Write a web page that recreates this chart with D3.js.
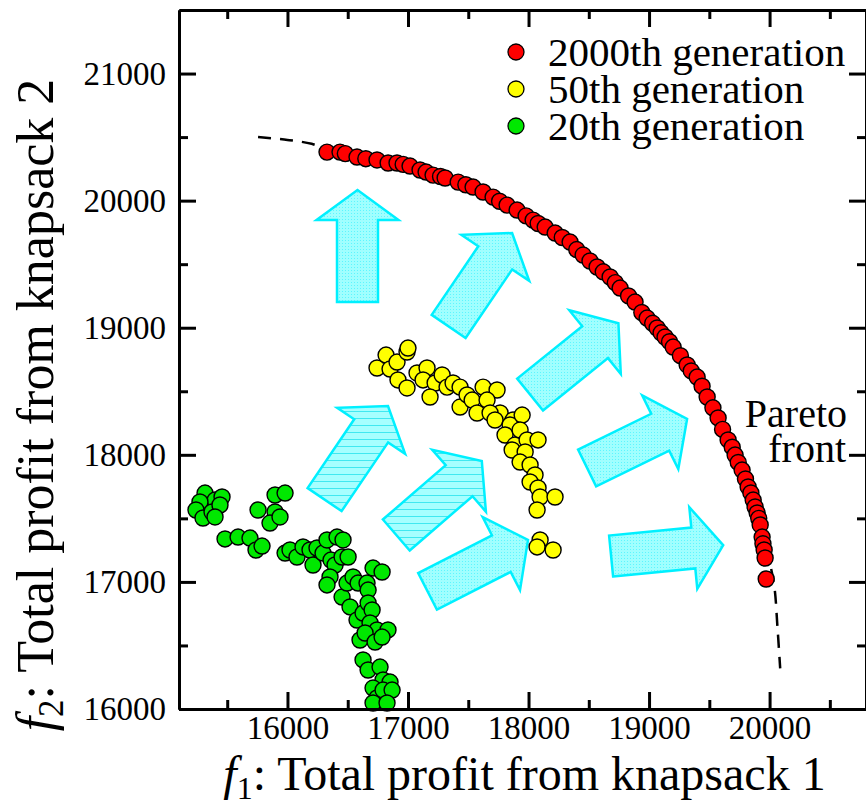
<!DOCTYPE html>
<html>
<head>
<meta charset="utf-8">
<script src="https://cdn.jsdelivr.net/npm/d3@7"></script>
<style>
  body { margin: 0; background: #fff; }
  svg text { font-family: 'Liberation Serif'; fill: #000; }
</style>
</head>
<body>
<div id="chart"></div>
<script>
let width = 866,
    height = 805;

const serif = "'Liberation Serif'";

// [f1, f2] pairs
const gen2000 = [
  [16328,20382],[16436,20382],[16480,20370],[16577,20343],[16650,20330],[16743,20320],[16835,20296],
  [16909,20296],[16960,20285],[17017,20272],[17100,20241],[17150,20225],[17208,20201],[17270,20190],
  [17308,20178],[17416,20146],[17480,20125],[17540,20107],[17623,20068],[17706,20028],[17760,19995],
  [17822,19965],[17905,19926],[17980,19880],[18038,19847],[18080,19820],[18138,19792],[18221,19745],
  [18280,19710],[18345,19674],[18400,19615],[18453,19572],[18510,19525],[18569,19478],[18620,19440],
  [18677,19399],[18720,19355],[18760,19312],[18830,19250],[18884,19202],[18940,19120],[18984,19076],
  [19030,19035],[19067,18998],[19100,18960],[19133,18927],[19170,18890],[19200,18848],[19260,18780],
  [19316,18707],[19350,18660],[19399,18612],[19440,18540],[19482,18455],[19530,18370],[19573,18290],
  [19610,18200],[19656,18117],[19690,18060],[19714,17998],[19740,17940],[19772,17880],[19800,17810],
  [19822,17747],[19845,17700],[19864,17644],[19880,17590],[19897,17542],[19910,17500],[19922,17448],
  [19938,17353],[19945,17300],[19955,17251],[19963,17188],[19972,17023]
];

const gen50 = [
  [16743,18683],[16818,18785],[16851,18675],[16909,18730],[16992,18809],[17000,18840],[16917,18589],
  [16992,18526],[17075,18644],[17158,18683],[17125,18589],[17225,18565],[17183,18455],[17283,18628],
  [17324,18533],[17374,18565],[17432,18533],[17432,18376],[17490,18471],[17532,18431],[17623,18533],
  [17739,18510],[17656,18431],[17764,18329],[17872,18274],[17573,18329],[17681,18329],[17722,18274],
  [17847,18235],[17947,18313],[17805,18156],[17888,18077],[17930,18195],[17988,18117],[17864,18038],
  [17972,18022],[17930,17943],[18013,17920],[18054,17841],[18013,17786],[18079,17739],[18096,17668],
  [18079,18117],[18220,17668],[18071,17566],[18096,17330],[18071,17275],[18204,17251]
];

const gen20 = [
  [15316,17699],[15399,17644],[15457,17668],[15274,17629],[15241,17566],[15299,17503],[15374,17550],
  [15440,17605],[15399,17511],[15482,17338],[15590,17353],[15689,17345],[15739,17251],[15789,17282],
  [15756,17566],[15897,17684],[15980,17699],[15897,17550],[15855,17463],[15938,17511],[15980,17227],
  [16021,17251],[16079,17196],[16129,17275],[16187,17251],[16245,17267],[16212,17133],[16295,17227],
  [16328,17330],[16411,17353],[16461,17330],[16361,17172],[16395,17133],[16453,17196],[16503,17196],
  [16353,17039],[16328,16976],[16453,16881],[16494,16991],[16544,17039],[16586,16991],[16660,16991],
  [16669,16936],[16710,17109],[16785,17078],[16519,16803],[16577,16700],[16627,16755],[16669,16834],
  [16702,16779],[16685,16677],[16743,16622],[16834,16622],[16602,16543],[16644,16598],[16727,16527],
  [16785,16566],[16627,16386],[16669,16307],[16768,16330],[16793,16228],[16851,16212],[16710,16165],
  [16743,16087],[16793,16149],[16868,16149],[16710,16047],[16826,16047]
];

const paretoFront = [
  [15756,20500],[16000,20478],[16200,20447],[16328,20405],[16577,20350],[16909,20300],[17308,20185],
  [17706,20035],[18038,19852],[18345,19680],[18620,19445],[18884,19207],[19133,18930],[19350,18662],
  [19530,18372],[19690,18062],[19822,17750],[19910,17502],[19960,17250],[20000,17150],[20040,16960],
  [20065,16650],[20088,16320]
];

// block arrows: [tail f1, tail f2, tip f1, tip f2, striped]
const arrows = [
  [16581,19202,16581,20083,0],
  [17337,19010,17864,19745,0],
  [18013,18474,18746,19035,0],
  [18486,17896,19316,18282,0],
  [18685,17204,19615,17290,0],
  [16308,17648,16834,18384,1],
  [16903,17369,17612,17951,1],
  [17162,16926,17996,17330,0]
];

const xMajor = [16000,17000,18000,19000,20000],
      xMinor = [15500,16500,17500,18500,19500,20500],
      yMajor = [16000,17000,18000,19000,20000,21000],
      yMinor = [16500,17500,18500,19500,20500];

const legendNames = ["2000th generation", "50th generation", "20th generation"],
      legendColors = ["#ff0000", "#ffff00", "#00e800"];

const mLeft = 179, mRight = 866, mTop = 10, mBottom = 709;

const svg = d3.select("#chart")
  .append("svg")
  .attr("width", width)
  .attr("height", height)
  .style("font-family", serif);

const x = d3.scaleLinear().domain([15100, 20800]).range([mLeft, mRight]);
const y = d3.scaleLinear().domain([16000, 21500]).range([mBottom, mTop]);

// fill patterns for the arrows
const defs = svg.append("defs");
const dots = defs.append("pattern")
  .attr("id", "dots").attr("width", 3).attr("height", 3)
  .attr("patternUnits", "userSpaceOnUse");
dots.append("rect").attr("width", 3).attr("height", 3).attr("fill", "#a0ffff");
dots.append("rect").attr("width", 1).attr("height", 1).attr("fill", "#5cf6ff");

const stripes = defs.append("pattern")
  .attr("id", "stripes").attr("width", 6).attr("height", 7)
  .attr("patternUnits", "userSpaceOnUse");
stripes.append("rect").attr("width", 6).attr("height", 7).attr("fill", "#a6ffff");
stripes.append("rect").attr("y", 5).attr("width", 6).attr("height", 1).attr("fill", "#40e8f0");

function arrowPath(d) {
  let tx = x(d[0]), ty = y(d[1]), px = x(d[2]), py = y(d[3]);
  let len = Math.hypot(px - tx, py - ty),
      ux = (px - tx) / len, uy = (py - ty) / len,
      nx = -uy, ny = ux;
  let headLen = 30, headHalf = 41, shaftHalf = 20.5;
  let bx = px - ux * headLen, by = py - uy * headLen;
  let pts = [
    [tx + nx * shaftHalf, ty + ny * shaftHalf],
    [bx + nx * shaftHalf, by + ny * shaftHalf],
    [bx + nx * headHalf, by + ny * headHalf],
    [px, py],
    [bx - nx * headHalf, by - ny * headHalf],
    [bx - nx * shaftHalf, by - ny * shaftHalf],
    [tx - nx * shaftHalf, ty - ny * shaftHalf]
  ];
  return "M" + pts.map(p => p[0].toFixed(1) + "," + p[1].toFixed(1)).join("L") + "Z";
}

svg.selectAll(".arrow")
  .data(arrows)
  .enter().append("path")
  .attr("class", "arrow")
  .attr("d", arrowPath)
  .attr("fill", d => d[4] ? "url(#stripes)" : "url(#dots)")
  .attr("stroke", "#00f0ff")
  .attr("stroke-width", 2.5)
  .attr("stroke-linejoin", "miter");

// pareto front, dashed
svg.append("path")
  .datum(paretoFront)
  .attr("fill", "none")
  .attr("stroke", "#000")
  .attr("stroke-width", 2.5)
  .attr("stroke-dasharray", "13,9")
  .attr("d", d3.line()
    .x(d => x(d[0]))
    .y(d => y(d[1]))
    .curve(d3.curveCatmullRom));

function drawPoints(data, color) {
  svg.append("g")
    .selectAll("circle")
    .data(data)
    .enter().append("circle")
    .attr("cx", d => x(d[0]))
    .attr("cy", d => y(d[1]))
    .attr("r", 8)
    .attr("fill", color)
    .attr("stroke", "#000")
    .attr("stroke-width", 1.4);
}
drawPoints(gen20, legendColors[2]);
drawPoints(gen50, legendColors[1]);
drawPoints(gen2000, legendColors[0]);

// axes, ticks inward on all four sides
function styleAxis(g) {
  g.attr("font-family", null).attr("font-size", null);
  g.select(".domain").attr("stroke-width", 3);
  g.selectAll(".tick line").attr("stroke-width", 3);
  g.selectAll(".tick text")
    .style("font-family", serif)
    .style("font-size", "33px");
}

svg.append("g").attr("transform", "translate(0," + mBottom + ")")
  .call(d3.axisBottom(x).tickValues(xMajor).tickSize(-17).tickSizeOuter(0).tickPadding(7).tickFormat(d3.format("d")))
  .call(styleAxis);
svg.append("g").attr("transform", "translate(0," + mBottom + ")")
  .call(d3.axisBottom(x).tickValues(xMinor).tickSize(-9).tickSizeOuter(0).tickFormat(""))
  .call(styleAxis);
svg.append("g").attr("transform", "translate(0," + mTop + ")")
  .call(d3.axisTop(x).tickValues(xMajor).tickSize(-17).tickSizeOuter(0).tickFormat(""))
  .call(styleAxis);
svg.append("g").attr("transform", "translate(0," + mTop + ")")
  .call(d3.axisTop(x).tickValues(xMinor).tickSize(-9).tickSizeOuter(0).tickFormat(""))
  .call(styleAxis);

svg.append("g").attr("transform", "translate(" + mLeft + ",0)")
  .call(d3.axisLeft(y).tickValues(yMajor).tickSize(-17).tickSizeOuter(0).tickPadding(13).tickFormat(d3.format("d")))
  .call(styleAxis);
svg.append("g").attr("transform", "translate(" + mLeft + ",0)")
  .call(d3.axisLeft(y).tickValues(yMinor).tickSize(-9).tickSizeOuter(0).tickFormat(""))
  .call(styleAxis);
svg.append("g").attr("transform", "translate(" + mRight + ",0)")
  .call(d3.axisRight(y).tickValues(yMajor).tickSize(-17).tickSizeOuter(0).tickFormat(""))
  .call(styleAxis);
svg.append("g").attr("transform", "translate(" + mRight + ",0)")
  .call(d3.axisRight(y).tickValues(yMinor).tickSize(-9).tickSizeOuter(0).tickFormat(""))
  .call(styleAxis);

// axis titles
let xt = svg.append("text")
  .attr("x", (mLeft + mRight) / 2 + 2)
  .attr("y", 790)
  .attr("text-anchor", "middle")
  .style("font-family", serif)
  .style("font-size", "48px");
xt.append("tspan").style("font-style", "italic").text("f");
xt.append("tspan").attr("dy", 9).style("font-size", "32px").text("1");
xt.append("tspan").attr("dy", -9).text(": Total profit from knapsack 1");

let yt = svg.append("text")
  .attr("transform", "translate(53,405) rotate(-90)")
  .attr("text-anchor", "middle")
  .style("font-family", serif)
  .style("font-size", "52px");
yt.append("tspan").style("font-style", "italic").text("f");
yt.append("tspan").attr("dy", 10).style("font-size", "35px").text("2");
yt.append("tspan").attr("dy", -10).text(": Total profit from knapsack 2");

// pareto front label
svg.append("text")
  .attr("x", 847).attr("y", 427)
  .attr("text-anchor", "end")
  .style("font-family", serif)
  .style("font-size", "40px")
  .text("Pareto");
svg.append("text")
  .attr("x", 846).attr("y", 462)
  .attr("text-anchor", "end")
  .style("font-family", serif)
  .style("font-size", "40px")
  .text("front");

// legend
let legend = svg.selectAll(".legend")
  .data(legendNames)
  .enter().append("g")
  .attr("class", "legend")
  .attr("transform", (d, i) => "translate(516," + (52 + i * 37) + ")");
legend.append("circle")
  .attr("r", 8)
  .attr("fill", (d, i) => legendColors[i])
  .attr("stroke", "#000")
  .attr("stroke-width", 1.3);
legend.append("text")
  .attr("x", 32)
  .attr("y", 14)
  .style("font-family", serif)
  .style("font-size", "41px")
  .text(d => d);
</script>
</body>
</html>
